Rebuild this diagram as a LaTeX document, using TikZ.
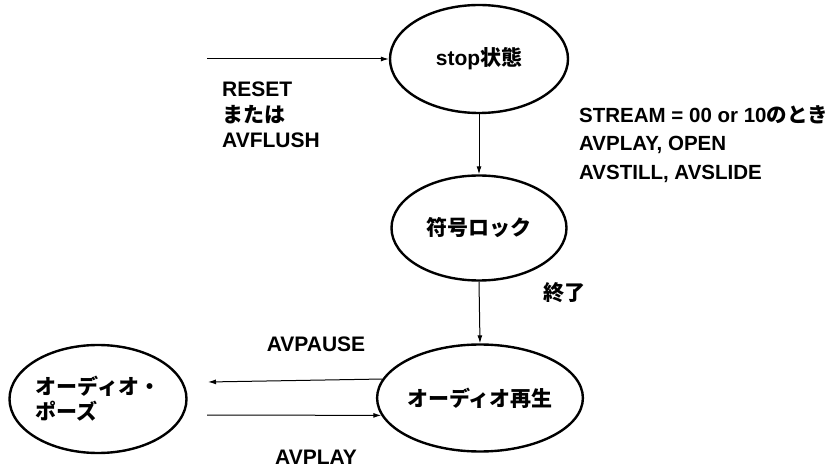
\documentclass[tikz,border=0pt]{standalone}
\usepackage{fontspec}
\setmainfont{Liberation Sans}
\newfontfamily\jp{Noto Sans CJK JP}
\usetikzlibrary{arrows.meta,shapes.geometric}

\begin{document}
\begin{tikzpicture}[x=1pt,y=-1pt,
    state/.style={ellipse, draw, line width=2.4pt, minimum width=178pt, minimum height=108pt, inner sep=0pt, align=left,
        font=\fontsize{21}{25}\selectfont\bfseries},
    trans/.style={line width=1pt, -{Latex[length=8pt,width=5pt]}},
    lbl/.style={inner sep=0pt, align=left, font=\fontsize{21}{25.5}\selectfont\bfseries}]

    \useasboundingbox (0,0) rectangle (833,470);

    % states
    \node[state] (stop) at (479,59) {stop{\jp 状態}};
    \node[state, minimum width=175pt, minimum height=105pt] (lock) at (479,228) {{\jp 符号ロック}};
    \node[state, minimum width=180pt, minimum height=107pt] (play) at (480,398) {{\jp オーディオ再生}};
    \node[state, minimum width=177pt] (pause) at (98,399) {{\jp オーディオ・}\\{\jp ポーズ}};

    % free ends
    \coordinate (reset) at (207,59);
    \coordinate (pausein) at (208,382);
    \coordinate (pauseout) at (207,415);

    % transitions
    \draw[trans] (reset) -- (stop.west);
    \draw[trans] (stop) -- (lock);
    \draw[trans] (lock.south) -- (play.north);
    \draw[trans] (play.169.5) -- (pausein);
    \draw[trans] (pauseout) -- (play.190.6);

    % labels
    \node[lbl, anchor=north west] (resetlbl) at (222,82) {RESET\\{\jp または}\\AVFLUSH};
    \node[lbl, anchor=north west, font=\fontsize{20.5}{28.5}\selectfont\bfseries] (streamlbl) at (579,105)
        {STREAM = 00 or 10{\jp のとき}\\AVPLAY, OPEN\\AVSTILL, AVSLIDE};
    \node[lbl, anchor=west] (endlbl) at (543,293) {{\jp 終了}};
    \node[lbl] (pauselbl) at (316,344) {AVPAUSE};
    \node[lbl] (playlbl) at (316,457) {AVPLAY};

\end{tikzpicture}
\end{document}
